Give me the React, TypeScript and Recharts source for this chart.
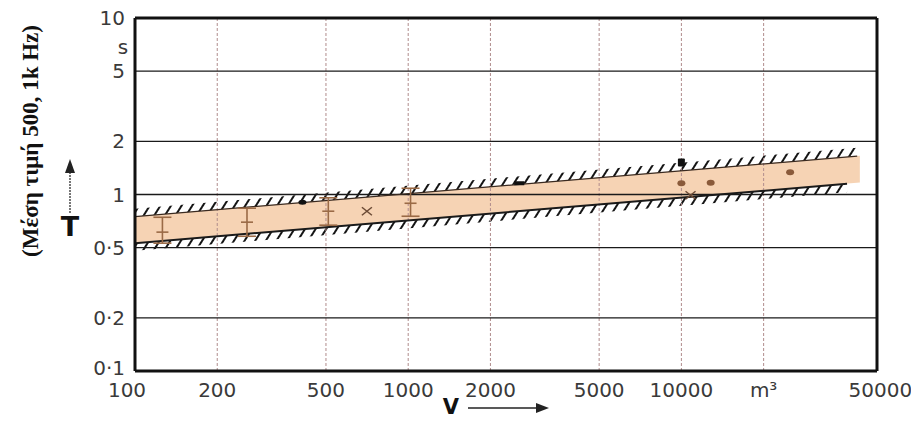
import React from "react";
import {
  ComposedChart,
  Area,
  Line,
  Scatter,
  ErrorBar,
  XAxis,
  YAxis,
  ReferenceLine,
} from "recharts";

// ---- axis ticks ----
const xTicks = [100, 200, 500, 1000, 2000, 5000, 10000, 20000, 50000];
const xTickLabels = ["100", "200", "500", "1000", "2000", "5000", "10000", "m³", "50000"];
const yTicks = [0.1, 0.2, 0.5, 1, 2, 5, 10];
const yTickLabels = ["0·1", "0·2", "0·5", "1", "2", "5", "10"];
const xGrid = [200, 500, 1000, 2000, 5000, 10000, 20000];
const yGrid = [0.2, 0.5, 1, 2, 5];

// ---- band (scatter range of reverberation time) ----
const bandX = [100, 45000];
const bandLower = [0.53, 1.17];
const bandUpper = [0.75, 1.66];
const upperLineX = [100, 44000];
const upperLine = [0.75, 1.65];
const upperHatchTop = [0.83, 1.84];
const lowerLineX = [100, 40400];
const lowerLine = [0.53, 1.15];
const lowerHatchBottom = [0.48, 1.03];

// ---- measured points ----
const errX = [126, 257, 510, 1020];
const errMid = [0.612, 0.697, 0.804, 0.892];
const errLow = [0.53, 0.58, 0.67, 0.753];
const errHigh = [0.743, 0.836, 0.958, 1.085];

const crossX = [706, 10800];
const crossY = [0.804, 0.99];

const brownX = [10000, 12800, 25000];
const brownY = [1.158, 1.166, 1.337];

const blackDotX = [410];
const blackDotY = [0.904];
const blackDashX = [2550];
const blackDashY = [1.158];
const blackSquareX = [10000];
const blackSquareY = [1.52];

// ---- build series tables ----
const bandData = bandX.map((x, i) => ({ x, band: [bandLower[i], bandUpper[i]] }));
const upperData = upperLineX.map((x, i) => ({
  x,
  v: upperLine[i],
  hatch: [upperLine[i], upperHatchTop[i]],
}));
const lowerData = lowerLineX.map((x, i) => ({
  x,
  v: lowerLine[i],
  hatch: [lowerHatchBottom[i], lowerLine[i]],
}));
const errData = errX.map((x, i) => ({
  x,
  y: errMid[i],
  err: [errMid[i] - errLow[i], errHigh[i] - errMid[i]],
}));
const crossData = crossX.map((x, i) => ({ x, y: crossY[i] }));
const brownData = brownX.map((x, i) => ({ x, y: brownY[i] }));
const blackDotData = blackDotX.map((x, i) => ({ x, y: blackDotY[i] }));
const blackDashData = blackDashX.map((x, i) => ({ x, y: blackDashY[i] }));
const blackSquareData = blackSquareX.map((x, i) => ({ x, y: blackSquareY[i] }));

const TICK_FONT = "'DejaVu Sans', sans-serif";

const XTick = (props: any) => {
  const { x, y, payload } = props;
  const idx = xTicks.indexOf(payload.value);
  const label = idx >= 0 ? xTickLabels[idx] : String(payload.value);
  const dx = payload.value === 50000 ? 8 : payload.value === 100 ? -8 : 0;
  return (
    <text
      x={x + dx}
      y={y + 24}
      textAnchor="middle"
      fontFamily={TICK_FONT}
      fontSize={20}
      fill="#3a3a3a"
    >
      {label}
    </text>
  );
};

const YTick = (props: any) => {
  const { x, y, payload } = props;
  const idx = yTicks.indexOf(payload.value);
  const label = idx >= 0 ? yTickLabels[idx] : String(payload.value);
  const dy = payload.value === 0.1 ? -3 : 0;
  return (
    <text
      x={x - 8}
      y={y + 7 + dy}
      textAnchor="end"
      fontFamily={TICK_FONT}
      fontSize={20}
      fill="#3a3a3a"
    >
      {label}
    </text>
  );
};

const YLabel = () => (
  <g>
    <text
      transform="rotate(-90)"
      x={-141}
      y={38}
      textAnchor="middle"
      fontFamily="'Liberation Serif', serif"
      fontWeight="bold"
      fontSize={23}
      fill="#111"
    >
      (Μέση τιμή 500, 1k Hz)
    </text>
    <line x1={70} y1={213} x2={70} y2={170} stroke="#555" strokeWidth={1.6} strokeDasharray="2 1" />
    <polygon points="70,159 65,173 75,173" fill="#222" />
    <text
      x={70}
      y={236}
      textAnchor="middle"
      fontFamily="'DejaVu Sans', sans-serif"
      fontWeight="bold"
      fontSize={27}
      fill="#111"
    >
      T
    </text>
    <text x={123} y={54} textAnchor="middle" fontFamily={TICK_FONT} fontSize={20} fill="#3a3a3a">
      s
    </text>
  </g>
);

const XLabel = () => (
  <g>
    <text
      x={451}
      y={414}
      textAnchor="middle"
      fontFamily="'DejaVu Sans', sans-serif"
      fontWeight="bold"
      fontSize={21}
      fill="#111"
    >
      V
    </text>
    <line x1={468} y1={408} x2={538} y2={408} stroke="#222" strokeWidth={1.5} />
    <polygon points="549,408 536,403 536,413" fill="#222" />
  </g>
);

const tickShape = (stroke: string) => (p: any) => (
  <line x1={p.cx - 6} x2={p.cx + 6} y1={p.cy} y2={p.cy} stroke={stroke} strokeWidth={1.6} />
);

const crossShape = (p: any) => (
  <g stroke="#6b4a35" strokeWidth={1.5}>
    <line x1={p.cx - 5} y1={p.cy - 4} x2={p.cx + 5} y2={p.cy + 4} />
    <line x1={p.cx - 5} y1={p.cy + 4} x2={p.cx + 5} y2={p.cy - 4} />
  </g>
);

const brownShape = (p: any) => <ellipse cx={p.cx} cy={p.cy} rx={4} ry={3} fill="#8a5a3a" />;
const blackDotShape = (p: any) => <ellipse cx={p.cx} cy={p.cy} rx={4} ry={2.5} fill="#111" />;
const blackDashShape = (p: any) => (
  <rect x={p.cx - 5} y={p.cy - 2} width={10} height={4} fill="#111" />
);
const blackSquareShape = (p: any) => (
  <rect x={p.cx - 3.5} y={p.cy - 4} width={7} height={8} rx={1} fill="#111" />
);

export default function App() {
  return (
    <div style={{ position: "absolute", left: 0, top: 0, background: "#fff" }}>
      <ComposedChart
        width={911}
        height={421}
        margin={{ top: 18, right: 34, bottom: 0, left: 0 }}
      >
        <defs>
          <pattern
            id="hatch"
            patternUnits="userSpaceOnUse"
            width={9}
            height={9}
            patternTransform="rotate(32)"
          >
            <line x1={2} y1={0} x2={2} y2={9} stroke="#151515" strokeWidth={2} />
          </pattern>
        </defs>
        <XAxis
          dataKey="x"
          type="number"
          scale="log"
          domain={[100, 52000]}
          allowDataOverflow
          ticks={xTicks}
          tick={<XTick />}
          tickLine={false}
          axisLine={false}
          tickSize={0}
          height={50}
          interval={0}
          label={{ content: <XLabel /> }}
        />
        <YAxis
          dataKey="y"
          type="number"
          scale="log"
          domain={[0.1, 10]}
          allowDataOverflow
          ticks={yTicks}
          tick={<YTick />}
          tickLine={false}
          axisLine={false}
          tickSize={0}
          width={135}
          interval={0}
          label={{ content: <YLabel /> }}
        />

        <Area
          data={bandData}
          dataKey="band"
          type="linear"
          fill="#f5cfae"
          fillOpacity={0.92}
          stroke="none"
          isAnimationActive={false}
          dot={false}
          activeDot={false}
        />
        <Area
          data={upperData}
          dataKey="hatch"
          type="linear"
          fill="url(#hatch)"
          fillOpacity={1}
          stroke="none"
          isAnimationActive={false}
          dot={false}
          activeDot={false}
        />
        <Area
          data={lowerData}
          dataKey="hatch"
          type="linear"
          fill="url(#hatch)"
          fillOpacity={1}
          stroke="none"
          isAnimationActive={false}
          dot={false}
          activeDot={false}
        />

        {xGrid.map((v) => (
          <ReferenceLine key={"vx" + v} x={v} stroke="#b08c8c" strokeWidth={1} strokeDasharray="3 2" />
        ))}
        {yGrid.map((v) => (
          <ReferenceLine key={"hy" + v} y={v} stroke="#1a1a1a" strokeWidth={1.3} />
        ))}

        <Line
          data={upperData}
          dataKey="v"
          type="linear"
          stroke="#3a2a20"
          strokeWidth={1.2}
          dot={false}
          activeDot={false}
          isAnimationActive={false}
        />
        <Line
          data={lowerData}
          dataKey="v"
          type="linear"
          stroke="#1a1a1a"
          strokeWidth={2}
          dot={false}
          activeDot={false}
          isAnimationActive={false}
        />

        <Scatter data={errData} dataKey="y" shape={tickShape("#9a6a46")} isAnimationActive={false}>
          <ErrorBar dataKey="err" direction="y" width={9} stroke="#9a6a46" strokeWidth={1.6} />
        </Scatter>
        <Scatter data={crossData} dataKey="y" shape={crossShape} isAnimationActive={false} />
        <Scatter data={brownData} dataKey="y" shape={brownShape} isAnimationActive={false} />
        <Scatter data={blackDotData} dataKey="y" shape={blackDotShape} isAnimationActive={false} />
        <Scatter data={blackDashData} dataKey="y" shape={blackDashShape} isAnimationActive={false} />
        <Scatter data={blackSquareData} dataKey="y" shape={blackSquareShape} isAnimationActive={false} />

        <ReferenceLine y={10} stroke="#111" strokeWidth={3} />
        <ReferenceLine y={0.1} stroke="#111" strokeWidth={3} />
        <ReferenceLine x={100} stroke="#111" strokeWidth={3} />
        <ReferenceLine x={52000} stroke="#111" strokeWidth={3} />
      </ComposedChart>
    </div>
  );
}
